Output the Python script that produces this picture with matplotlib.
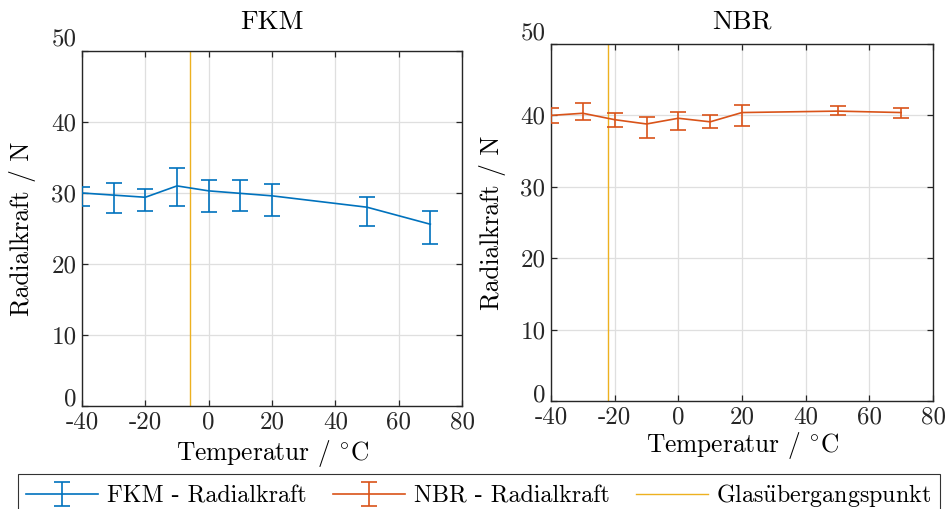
import matplotlib
matplotlib.use("Agg")
import matplotlib.pyplot as plt
from matplotlib.ticker import FuncFormatter

plt.rcParams['font.family'] = ['cmr10', 'DejaVu Serif']
plt.rcParams['mathtext.fontset'] = 'cm'
plt.rcParams['axes.unicode_minus'] = False

# Data
temps = [-40, -30, -20, -10, 0, 10, 20, 50, 70]
fkm_mean = [30.0, 29.7, 29.4, 31.0, 30.3, 29.95, 29.6, 28.0, 25.6]
fkm_upper = [30.9, 31.4, 30.6, 33.5, 31.8, 31.8, 31.3, 29.4, 27.5]
fkm_lower = [28.1, 27.2, 27.4, 28.1, 27.3, 27.5, 26.8, 25.4, 22.8]
nbr_mean = [40.0, 40.3, 39.4, 38.8, 39.6, 39.1, 40.4, 40.6, 40.4]
nbr_upper = [41.1, 41.7, 40.3, 39.8, 40.5, 40.0, 41.4, 41.3, 41.0]
nbr_lower = [39.0, 39.4, 38.4, 36.9, 37.9, 38.2, 38.5, 40.1, 39.7]
fkm_tg = -6
nbr_tg = -22
xticks = [-40, -20, 0, 20, 40, 60, 80]
yticks = [0, 10, 20, 30, 40, 50]
labels = ['FKM - Radialkraft', 'NBR - Radialkraft', r'Glas$\ddot{\mathrm{u}}$bergangspunkt']

c_fkm = '#0072BD'
c_nbr = '#D95319'
c_tg = '#EDB120'
axcol = '#262626'

fig = plt.figure(figsize=(9.46, 5.09), dpi=100)
ax1 = fig.add_axes([82/946, 1-406/509, 380/946, 355/509])
ax2 = fig.add_axes([551/946, 1-401/509, 382/946, 357/509])

fmt = FuncFormatter(lambda v, p: ('%d' % v).replace('\u2212', '-'))

def style(ax, title, xlabpad, ylabpad):
    ax.set_xlim(-40, 80)
    ax.set_ylim(0, 50)
    ax.set_xticks(xticks)
    ax.set_yticks(yticks)
    ax.xaxis.set_major_formatter(fmt)
    ax.yaxis.set_major_formatter(fmt)
    ax.grid(True, color='#dfdfdf', linewidth=0.9)
    ax.set_axisbelow(True)
    ax.tick_params(direction='in', top=True, right=True, length=4, width=0.9,
                   colors=axcol, labelsize=18)
    ax.tick_params(axis='x', pad=4)
    ax.tick_params(axis='y', pad=4)
    for s in ax.spines.values():
        s.set_color(axcol)
        s.set_linewidth(1.0)
    yl = ax.get_yticklabels()
    yl[0].set_va('baseline')
    yl[-1].set_va('bottom')
    pos = ax.get_position()
    fig.text((pos.x0 + pos.x1) / 2, 1 - 22/509, title, fontsize=19.5,
             ha='center', va='center')
    ax.set_xlabel(r'Temperatur / $^{\circ}\mathrm{C}$', fontsize=18.3, labelpad=xlabpad)
    ax.set_ylabel('Radialkraft / N', fontsize=18.3, labelpad=ylabpad)

def eb(ax, means, lo, up, color, label):
    yerr = [[m - l for m, l in zip(means, lo)], [u - m for m, u in zip(means, up)]]
    return ax.errorbar(temps, means, yerr=yerr, color=color, lw=1.2, elinewidth=1.2,
                       capsize=6, capthick=1.2, label=label, zorder=3)

h1 = eb(ax1, fkm_mean, fkm_lower, fkm_upper, c_fkm, labels[0])
ax1.axvline(fkm_tg, color=c_tg, lw=1.0, zorder=2)
style(ax1, 'FKM', 3, 11)

h2 = eb(ax2, nbr_mean, nbr_lower, nbr_upper, c_nbr, labels[1])
h3 = ax2.axvline(nbr_tg, color=c_tg, lw=1.0, zorder=2, label=labels[2])
style(ax2, 'NBR', 1, 10)

leg = fig.legend([h1, h2, h3], labels,
                 loc='upper left', bbox_to_anchor=(18/946, 0, 922/946, 1 - 474/509),
                 mode='expand', ncol=3, fontsize=17.3, frameon=True, fancybox=False,
                 edgecolor='black', handlelength=3.0, borderpad=0.35, handletextpad=0.35,
                 columnspacing=1.0, borderaxespad=0)
leg.get_frame().set_linewidth(0.8)

fig.savefig('out.png', dpi=100)
